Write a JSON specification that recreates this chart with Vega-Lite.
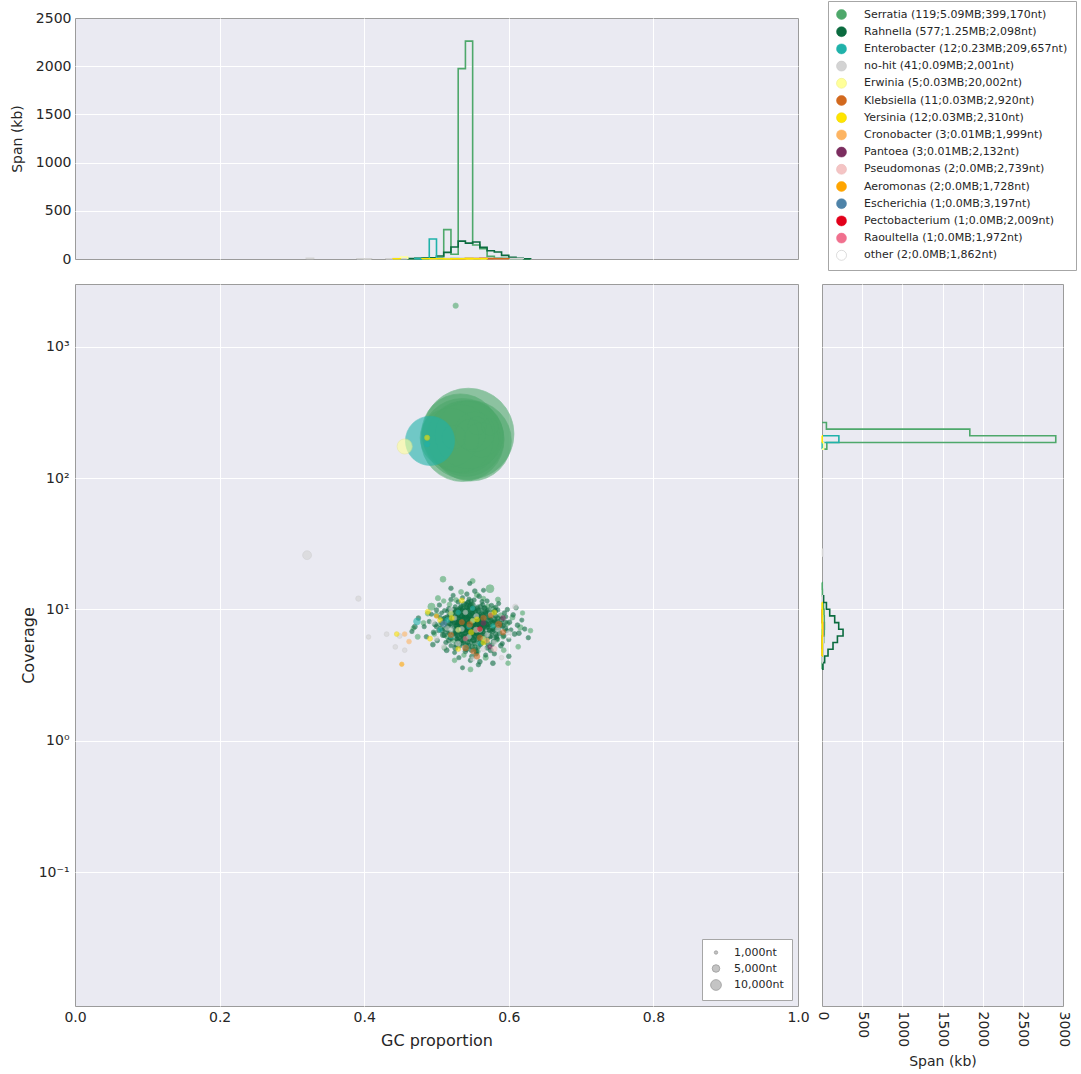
{
  "$schema": "https://vega.github.io/schema/vega-lite/v6.json",
  "background": "white",
  "padding": {"left": 9, "top": 0, "right": 0, "bottom": 0},
  "config": {
    "font": "DejaVu Sans",
    "view": {"fill": "#eaeaf2", "stroke": "#9b9b9b", "strokeWidth": 1},
    "axis": {
      "domain": false, "ticks": false, "grid": true, "gridColor": "#ffffff", "gridWidth": 1,
      "labelFont": "DejaVu Sans", "labelFontSize": 14, "labelColor": "#262626",
      "labelFlush": false, "labelOverlap": false,
      "titleFont": "DejaVu Sans", "titleFontSize": 16, "titleFontWeight": "normal", "titleColor": "#262626"
    }
  },
  "datasets": {
    "contigs": [
      {"taxon":"Serratia","gc":0.544,"cov":217,"len":725000},
      {"taxon":"Serratia","gc":0.536,"cov":195,"len":600000},
      {"taxon":"Serratia","gc":0.548,"cov":192,"len":560000},
      {"taxon":"Serratia","gc":0.533,"cov":222,"len":520000},
      {"taxon":"Serratia","gc":0.541,"cov":200,"len":495000},
      {"taxon":"Serratia","gc":0.538,"cov":205,"len":455000},
      {"taxon":"Serratia","gc":0.545,"cov":213,"len":400000},
      {"taxon":"Serratia","gc":0.532,"cov":200,"len":399170},
      {"taxon":"Serratia","gc":0.518,"cov":203,"len":300000},
      {"taxon":"Serratia","gc":0.553,"cov":225,"len":140000},
      {"taxon":"Serratia","gc":0.562,"cov":195,"len":105000},
      {"taxon":"Serratia","gc":0.547,"cov":215,"len":80000},
      {"taxon":"Serratia","gc":0.524,"cov":205,"len":50000},
      {"taxon":"Serratia","gc":0.556,"cov":250,"len":30000},
      {"taxon":"Serratia","gc":0.574,"cov":245,"len":25000},
      {"taxon":"Serratia","gc":0.5265,"cov":2052,"len":2500},
      {"taxon":"Serratia","gc":0.509,"cov":17.0,"len":3000},
      {"taxon":"Serratia","gc":0.574,"cov":14.4,"len":5500},
      {"taxon":"Serratia","gc":0.493,"cov":10.5,"len":4500},
      {"taxon":"Serratia","gc":0.52,"cov":9.2,"len":2500},
      {"taxon":"Serratia","gc":0.561,"cov":8.3,"len":2800},
      {"taxon":"Serratia","gc":0.535,"cov":6.5,"len":3200},
      {"taxon":"Serratia","gc":0.548,"cov":11.0,"len":2200},
      {"taxon":"Serratia","gc":0.58,"cov":7.4,"len":3000},
      {"taxon":"Serratia","gc":0.505,"cov":7.7,"len":2000},
      {"taxon":"Serratia","gc":0.566,"cov":5.7,"len":2400},
      {"taxon":"Serratia","gc":0.54,"cov":8.8,"len":3600},
      {"taxon":"Serratia","gc":0.527,"cov":11.8,"len":2100},
      {"taxon":"Serratia","gc":0.589,"cov":9.0,"len":2600},
      {"taxon":"Serratia","gc":0.553,"cov":5.2,"len":1900},
      {"taxon":"Serratia","gc":0.515,"cov":6.2,"len":2300},
      {"taxon":"Serratia","gc":0.598,"cov":7.8,"len":2100},
      {"taxon":"Serratia","gc":0.531,"cov":9.8,"len":2700},
      {"taxon":"Serratia","gc":0.571,"cov":10.6,"len":2000},
      {"taxon":"Serratia","gc":0.545,"cov":6.8,"len":2500},
      {"taxon":"Serratia","gc":0.482,"cov":7.9,"len":2200},
      {"taxon":"Serratia","gc":0.556,"cov":12.9,"len":2400},
      {"taxon":"Serratia","gc":0.524,"cov":8.4,"len":1800},
      {"taxon":"Serratia","gc":0.584,"cov":5.9,"len":2300},
      {"taxon":"Serratia","gc":0.5,"cov":9.1,"len":2600},
      {"taxon":"Serratia","gc":0.563,"cov":7.2,"len":3300},
      {"taxon":"Serratia","gc":0.538,"cov":4.5,"len":2000},
      {"taxon":"Serratia","gc":0.605,"cov":8.7,"len":2400},
      {"taxon":"Serratia","gc":0.518,"cov":10.9,"len":2100},
      {"taxon":"Serratia","gc":0.55,"cov":9.3,"len":1900},
      {"taxon":"Serratia","gc":0.592,"cov":6.2,"len":2000},
      {"taxon":"Serratia","gc":0.474,"cov":6.2,"len":2300},
      {"taxon":"Serratia","gc":0.534,"cov":13.6,"len":2200},
      {"taxon":"Serratia","gc":0.568,"cov":4.3,"len":2500},
      {"taxon":"Serratia","gc":0.511,"cov":5.1,"len":2100},
      {"taxon":"Serratia","gc":0.577,"cov":8.1,"len":1800},
      {"taxon":"Serratia","gc":0.616,"cov":7.3,"len":2700},
      {"taxon":"Serratia","gc":0.497,"cov":6.5,"len":2100},
      {"taxon":"Serratia","gc":0.543,"cov":10.1,"len":2600},
      {"taxon":"Serratia","gc":0.559,"cov":6.1,"len":2200},
      {"taxon":"Serratia","gc":0.529,"cov":7.5,"len":2800},
      {"taxon":"Serratia","gc":0.619,"cov":9.4,"len":1800},
      {"taxon":"Serratia","gc":0.63,"cov":6.9,"len":2000},
      {"taxon":"Serratia","gc":0.613,"cov":5.2,"len":2100},
      {"taxon":"Serratia","gc":0.488,"cov":9.3,"len":2200},
      {"taxon":"Serratia","gc":0.468,"cov":7.2,"len":1900},
      {"taxon":"Serratia","gc":0.585,"cov":11.9,"len":2300},
      {"taxon":"Serratia","gc":0.525,"cov":4.1,"len":2000},
      {"taxon":"Serratia","gc":0.547,"cov":3.5,"len":2200},
      {"taxon":"Serratia","gc":0.599,"cov":3.9,"len":2000},
      {"taxon":"Serratia","gc":0.502,"cov":12.2,"len":2400},
      {"taxon":"Serratia","gc":0.55,"cov":16.5,"len":2200},
      {"taxon":"Serratia","gc":0.565,"cov":12.1,"len":2000},
      {"taxon":"Serratia","gc":0.537,"cov":10.5,"len":2100},
      {"taxon":"Serratia","gc":0.579,"cov":10.1,"len":2600},
      {"taxon":"Serratia","gc":0.557,"cov":4.8,"len":2300},
      {"taxon":"Serratia","gc":0.523,"cov":5.8,"len":2000},
      {"taxon":"Serratia","gc":0.593,"cov":4.9,"len":2100},
      {"taxon":"Serratia","gc":0.51,"cov":11.6,"len":1900},
      {"taxon":"Rahnella","gc":0.541,"cov":7.6,"len":2100},
      {"taxon":"Rahnella","gc":0.532,"cov":8.1,"len":1850},
      {"taxon":"Rahnella","gc":0.556,"cov":7.2,"len":2400},
      {"taxon":"Rahnella","gc":0.548,"cov":6.5,"len":1600},
      {"taxon":"Rahnella","gc":0.527,"cov":6.9,"len":2900},
      {"taxon":"Rahnella","gc":0.562,"cov":8.4,"len":1750},
      {"taxon":"Rahnella","gc":0.519,"cov":7.8,"len":2200},
      {"taxon":"Rahnella","gc":0.538,"cov":9.1,"len":1500},
      {"taxon":"Rahnella","gc":0.551,"cov":5.9,"len":3100},
      {"taxon":"Rahnella","gc":0.573,"cov":7.0,"len":1900},
      {"taxon":"Rahnella","gc":0.544,"cov":10.2,"len":1300},
      {"taxon":"Rahnella","gc":0.509,"cov":6.4,"len":2500},
      {"taxon":"Rahnella","gc":0.566,"cov":6.1,"len":2050},
      {"taxon":"Rahnella","gc":0.535,"cov":5.5,"len":1700},
      {"taxon":"Rahnella","gc":0.581,"cov":8.0,"len":2600},
      {"taxon":"Rahnella","gc":0.523,"cov":9.5,"len":1450},
      {"taxon":"Rahnella","gc":0.558,"cov":9.8,"len":2300},
      {"taxon":"Rahnella","gc":0.546,"cov":8.6,"len":3500},
      {"taxon":"Rahnella","gc":0.529,"cov":7.3,"len":1200},
      {"taxon":"Rahnella","gc":0.569,"cov":7.7,"len":2750},
      {"taxon":"Rahnella","gc":0.515,"cov":8.8,"len":1650},
      {"taxon":"Rahnella","gc":0.553,"cov":6.8,"len":1950},
      {"taxon":"Rahnella","gc":0.587,"cov":6.6,"len":2200},
      {"taxon":"Rahnella","gc":0.537,"cov":6.2,"len":2450},
      {"taxon":"Rahnella","gc":0.5,"cov":7.4,"len":1800},
      {"taxon":"Rahnella","gc":0.561,"cov":5.4,"len":1550},
      {"taxon":"Rahnella","gc":0.543,"cov":11.2,"len":2000},
      {"taxon":"Rahnella","gc":0.526,"cov":5.1,"len":2350},
      {"taxon":"Rahnella","gc":0.576,"cov":9.3,"len":1400},
      {"taxon":"Rahnella","gc":0.549,"cov":7.9,"len":4200},
      {"taxon":"Rahnella","gc":0.534,"cov":10.6,"len":1750},
      {"taxon":"Rahnella","gc":0.592,"cov":7.5,"len":1900},
      {"taxon":"Rahnella","gc":0.512,"cov":7.1,"len":2650},
      {"taxon":"Rahnella","gc":0.564,"cov":10.9,"len":1600},
      {"taxon":"Rahnella","gc":0.54,"cov":4.8,"len":2050},
      {"taxon":"Rahnella","gc":0.557,"cov":8.9,"len":2850},
      {"taxon":"Rahnella","gc":0.521,"cov":6.0,"len":1350},
      {"taxon":"Rahnella","gc":0.579,"cov":5.7,"len":2250},
      {"taxon":"Rahnella","gc":0.547,"cov":9.6,"len":1800},
      {"taxon":"Rahnella","gc":0.531,"cov":8.4,"len":3300},
      {"taxon":"Rahnella","gc":0.505,"cov":8.7,"len":1550},
      {"taxon":"Rahnella","gc":0.585,"cov":8.6,"len":2000},
      {"taxon":"Rahnella","gc":0.552,"cov":11.8,"len":1700},
      {"taxon":"Rahnella","gc":0.538,"cov":7.0,"len":2500},
      {"taxon":"Rahnella","gc":0.567,"cov":6.4,"len":1450},
      {"taxon":"Rahnella","gc":0.517,"cov":10.1,"len":2150},
      {"taxon":"Rahnella","gc":0.597,"cov":6.9,"len":1650},
      {"taxon":"Rahnella","gc":0.544,"cov":5.3,"len":2700},
      {"taxon":"Rahnella","gc":0.528,"cov":9.9,"len":1900},
      {"taxon":"Rahnella","gc":0.571,"cov":8.2,"len":2300},
      {"taxon":"Rahnella","gc":0.555,"cov":4.6,"len":1850},
      {"taxon":"Rahnella","gc":0.496,"cov":6.7,"len":2050},
      {"taxon":"Rahnella","gc":0.536,"cov":12.3,"len":1600},
      {"taxon":"Rahnella","gc":0.582,"cov":10.4,"len":1750},
      {"taxon":"Rahnella","gc":0.56,"cov":7.4,"len":3900},
      {"taxon":"Rahnella","gc":0.524,"cov":6.6,"len":2200},
      {"taxon":"Rahnella","gc":0.548,"cov":7.2,"len":1300},
      {"taxon":"Rahnella","gc":0.601,"cov":8.0,"len":1950},
      {"taxon":"Rahnella","gc":0.513,"cov":5.6,"len":1800},
      {"taxon":"Rahnella","gc":0.575,"cov":4.9,"len":2400},
      {"taxon":"Rahnella","gc":0.539,"cov":8.9,"len":2000},
      {"taxon":"Rahnella","gc":0.563,"cov":9.3,"len":1550},
      {"taxon":"Rahnella","gc":0.531,"cov":4.3,"len":1700},
      {"taxon":"Rahnella","gc":0.589,"cov":5.3,"len":2100},
      {"taxon":"Rahnella","gc":0.55,"cov":10.8,"len":2600},
      {"taxon":"Rahnella","gc":0.507,"cov":9.4,"len":1450},
      {"taxon":"Rahnella","gc":0.545,"cov":6.0,"len":1900},
      {"taxon":"Rahnella","gc":0.57,"cov":11.6,"len":1650},
      {"taxon":"Rahnella","gc":0.522,"cov":8.3,"len":2950},
      {"taxon":"Rahnella","gc":0.594,"cov":9.4,"len":1800},
      {"taxon":"Rahnella","gc":0.533,"cov":7.6,"len":1400},
      {"taxon":"Rahnella","gc":0.558,"cov":6.3,"len":2250},
      {"taxon":"Rahnella","gc":0.49,"cov":8.1,"len":1700},
      {"taxon":"Rahnella","gc":0.542,"cov":13.1,"len":1850},
      {"taxon":"Rahnella","gc":0.577,"cov":6.8,"len":2050},
      {"taxon":"Rahnella","gc":0.516,"cov":7.5,"len":2300},
      {"taxon":"Rahnella","gc":0.554,"cov":5.0,"len":1600},
      {"taxon":"Rahnella","gc":0.608,"cov":6.5,"len":2150},
      {"taxon":"Rahnella","gc":0.53,"cov":11.4,"len":1750},
      {"taxon":"Rahnella","gc":0.565,"cov":7.9,"len":2700},
      {"taxon":"Rahnella","gc":0.501,"cov":5.8,"len":1900},
      {"taxon":"Rahnella","gc":0.547,"cov":8.1,"len":1500},
      {"taxon":"Rahnella","gc":0.584,"cov":7.3,"len":2450},
      {"taxon":"Rahnella","gc":0.526,"cov":10.5,"len":1550},
      {"taxon":"Rahnella","gc":0.559,"cov":12.6,"len":1950},
      {"taxon":"Rahnella","gc":0.537,"cov":5.9,"len":3000},
      {"taxon":"Rahnella","gc":0.572,"cov":9.9,"len":1850},
      {"taxon":"Rahnella","gc":0.51,"cov":8.5,"len":1650},
      {"taxon":"Rahnella","gc":0.549,"cov":4.4,"len":2100},
      {"taxon":"Rahnella","gc":0.596,"cov":8.8,"len":1400},
      {"taxon":"Rahnella","gc":0.541,"cov":9.2,"len":2350},
      {"taxon":"Rahnella","gc":0.519,"cov":6.1,"len":1750},
      {"taxon":"Rahnella","gc":0.563,"cov":5.6,"len":2000},
      {"taxon":"Rahnella","gc":0.532,"cov":6.7,"len":1600},
      {"taxon":"Rahnella","gc":0.579,"cov":8.4,"len":3400},
      {"taxon":"Rahnella","gc":0.553,"cov":9.0,"len":1700},
      {"taxon":"Rahnella","gc":0.504,"cov":10.8,"len":1800},
      {"taxon":"Rahnella","gc":0.544,"cov":7.0,"len":1450},
      {"taxon":"Rahnella","gc":0.612,"cov":7.6,"len":1950},
      {"taxon":"Rahnella","gc":0.527,"cov":8.0,"len":2150},
      {"taxon":"Rahnella","gc":0.568,"cov":4.5,"len":1650},
      {"taxon":"Rahnella","gc":0.535,"cov":9.7,"len":2500},
      {"taxon":"Rahnella","gc":0.586,"cov":11.1,"len":1600},
      {"taxon":"Rahnella","gc":0.52,"cov":11.9,"len":1750},
      {"taxon":"Rahnella","gc":0.556,"cov":10.1,"len":2050},
      {"taxon":"Rahnella","gc":0.548,"cov":5.6,"len":1300},
      {"taxon":"Rahnella","gc":0.493,"cov":9.2,"len":1550},
      {"taxon":"Rahnella","gc":0.574,"cov":6.2,"len":1900},
      {"taxon":"Rahnella","gc":0.539,"cov":7.8,"len":2750},
      {"taxon":"Rahnella","gc":0.562,"cov":7.0,"len":1800},
      {"taxon":"Rahnella","gc":0.514,"cov":4.9,"len":2200},
      {"taxon":"Rahnella","gc":0.6,"cov":5.9,"len":1700},
      {"taxon":"Rahnella","gc":0.545,"cov":12.0,"len":1550},
      {"taxon":"Rahnella","gc":0.529,"cov":6.3,"len":2000},
      {"taxon":"Rahnella","gc":0.557,"cov":8.0,"len":1450},
      {"taxon":"Rahnella","gc":0.581,"cov":9.7,"len":2350},
      {"taxon":"Rahnella","gc":0.534,"cov":8.7,"len":1650},
      {"taxon":"Rahnella","gc":0.508,"cov":7.9,"len":2450},
      {"taxon":"Rahnella","gc":0.566,"cov":8.7,"len":1900},
      {"taxon":"Rahnella","gc":0.551,"cov":6.6,"len":2200},
      {"taxon":"Rahnella","gc":0.525,"cov":4.7,"len":1500},
      {"taxon":"Rahnella","gc":0.593,"cov":6.3,"len":2050},
      {"taxon":"Rahnella","gc":0.542,"cov":10.4,"len":1750},
      {"taxon":"Rahnella","gc":0.618,"cov":8.3,"len":1600},
      {"taxon":"Rahnella","gc":0.498,"cov":7.7,"len":2300},
      {"taxon":"Rahnella","gc":0.57,"cov":5.1,"len":1850},
      {"taxon":"Rahnella","gc":0.536,"cov":7.4,"len":1400},
      {"taxon":"Rahnella","gc":0.553,"cov":13.8,"len":2000},
      {"taxon":"Rahnella","gc":0.518,"cov":9.0,"len":1700},
      {"taxon":"Rahnella","gc":0.583,"cov":6.0,"len":2600},
      {"taxon":"Rahnella","gc":0.546,"cov":9.0,"len":2150},
      {"taxon":"Rahnella","gc":0.561,"cov":6.7,"len":1550},
      {"taxon":"Rahnella","gc":0.53,"cov":5.7,"len":1800},
      {"taxon":"Rahnella","gc":0.576,"cov":10.7,"len":1950},
      {"taxon":"Rahnella","gc":0.503,"cov":6.9,"len":1600},
      {"taxon":"Rahnella","gc":0.54,"cov":6.6,"len":2450},
      {"taxon":"Rahnella","gc":0.598,"cov":10.0,"len":1750},
      {"taxon":"Rahnella","gc":0.555,"cov":7.5,"len":1900},
      {"taxon":"Rahnella","gc":0.523,"cov":12.8,"len":1650},
      {"taxon":"Rahnella","gc":0.568,"cov":9.5,"len":2050},
      {"taxon":"Rahnella","gc":0.511,"cov":9.8,"len":1500},
      {"taxon":"Rahnella","gc":0.547,"cov":4.1,"len":1850},
      {"taxon":"Rahnella","gc":0.588,"cov":7.8,"len":2250},
      {"taxon":"Rahnella","gc":0.533,"cov":9.4,"len":1700},
      {"taxon":"Rahnella","gc":0.56,"cov":4.0,"len":2000},
      {"taxon":"Rahnella","gc":0.486,"cov":6.2,"len":1800},
      {"taxon":"Rahnella","gc":0.543,"cov":8.3,"len":3700},
      {"taxon":"Rahnella","gc":0.578,"cov":7.1,"len":1650},
      {"taxon":"Rahnella","gc":0.527,"cov":7.6,"len":2350},
      {"taxon":"Rahnella","gc":0.552,"cov":8.5,"len":1550},
      {"taxon":"Rahnella","gc":0.606,"cov":9.1,"len":1900},
      {"taxon":"Rahnella","gc":0.516,"cov":6.8,"len":2100},
      {"taxon":"Rahnella","gc":0.564,"cov":6.9,"len":1450},
      {"taxon":"Rahnella","gc":0.538,"cov":11.0,"len":2200},
      {"taxon":"Rahnella","gc":0.591,"cov":5.5,"len":1700},
      {"taxon":"Rahnella","gc":0.549,"cov":6.1,"len":1950},
      {"taxon":"Rahnella","gc":0.52,"cov":5.3,"len":1600},
      {"taxon":"Rahnella","gc":0.573,"cov":8.9,"len":2500},
      {"taxon":"Rahnella","gc":0.531,"cov":10.0,"len":1850},
      {"taxon":"Rahnella","gc":0.558,"cov":5.2,"len":1750},
      {"taxon":"Rahnella","gc":0.495,"cov":5.4,"len":2050},
      {"taxon":"Rahnella","gc":0.544,"cov":7.4,"len":1500},
      {"taxon":"Rahnella","gc":0.58,"cov":4.6,"len":1800},
      {"taxon":"Rahnella","gc":0.537,"cov":8.0,"len":2300},
      {"taxon":"Rahnella","gc":0.563,"cov":11.5,"len":1650},
      {"taxon":"Rahnella","gc":0.512,"cov":8.0,"len":1900},
      {"taxon":"Rahnella","gc":0.55,"cov":9.5,"len":2150},
      {"taxon":"Rahnella","gc":0.603,"cov":7.0,"len":1550},
      {"taxon":"Rahnella","gc":0.526,"cov":9.1,"len":2000},
      {"taxon":"Rahnella","gc":0.569,"cov":7.3,"len":1700},
      {"taxon":"Rahnella","gc":0.541,"cov":5.0,"len":2400},
      {"taxon":"Rahnella","gc":0.585,"cov":9.9,"len":1450},
      {"taxon":"Rahnella","gc":0.534,"cov":6.4,"len":1950},
      {"taxon":"Rahnella","gc":0.556,"cov":7.7,"len":2600},
      {"taxon":"Rahnella","gc":0.506,"cov":7.2,"len":1750},
      {"taxon":"Rahnella","gc":0.547,"cov":10.8,"len":1850},
      {"taxon":"Rahnella","gc":0.614,"cov":6.6,"len":2100},
      {"taxon":"Rahnella","gc":0.521,"cov":7.7,"len":1500},
      {"taxon":"Rahnella","gc":0.565,"cov":8.5,"len":1800},
      {"taxon":"Rahnella","gc":0.539,"cov":6.9,"len":2250},
      {"taxon":"Rahnella","gc":0.577,"cov":5.4,"len":1650},
      {"taxon":"Rahnella","gc":0.5,"cov":9.9,"len":1900},
      {"taxon":"Rahnella","gc":0.552,"cov":7.1,"len":2050},
      {"taxon":"Rahnella","gc":0.529,"cov":8.9,"len":1600},
      {"taxon":"Rahnella","gc":0.59,"cov":8.4,"len":2350},
      {"taxon":"Rahnella","gc":0.545,"cov":8.6,"len":1700},
      {"taxon":"Rahnella","gc":0.561,"cov":9.0,"len":1950},
      {"taxon":"Rahnella","gc":0.517,"cov":5.8,"len":2150},
      {"taxon":"Rahnella","gc":0.574,"cov":7.6,"len":1500},
      {"taxon":"Rahnella","gc":0.535,"cov":7.9,"len":1800},
      {"taxon":"Rahnella","gc":0.483,"cov":7.4,"len":1650},
      {"taxon":"Rahnella","gc":0.556,"cov":6.5,"len":2000},
      {"taxon":"Rahnella","gc":0.542,"cov":6.3,"len":1550},
      {"taxon":"Rahnella","gc":0.595,"cov":7.2,"len":2450},
      {"taxon":"Rahnella","gc":0.528,"cov":6.0,"len":1750},
      {"taxon":"Rahnella","gc":0.567,"cov":10.3,"len":1850},
      {"taxon":"Rahnella","gc":0.548,"cov":11.6,"len":1600},
      {"taxon":"Rahnella","gc":0.511,"cov":6.4,"len":2250},
      {"taxon":"Rahnella","gc":0.582,"cov":6.5,"len":1900},
      {"taxon":"Rahnella","gc":0.539,"cov":9.9,"len":1450},
      {"taxon":"Rahnella","gc":0.622,"cov":7.1,"len":1700},
      {"taxon":"Rahnella","gc":0.475,"cov":8.6,"len":1950},
      {"taxon":"Rahnella","gc":0.558,"cov":3.8,"len":1800},
      {"taxon":"Rahnella","gc":0.536,"cov":3.6,"len":1550},
      {"taxon":"Rahnella","gc":0.6,"cov":4.4,"len":2000},
      {"taxon":"Rahnella","gc":0.466,"cov":6.8,"len":1650},
      {"taxon":"Rahnella","gc":0.627,"cov":6.1,"len":1750},
      {"taxon":"Rahnella","gc":0.52,"cov":14.5,"len":1850},
      {"taxon":"Rahnella","gc":0.565,"cov":14.0,"len":1600},
      {"taxon":"Rahnella","gc":0.578,"cov":3.9,"len":2100},
      {"taxon":"Rahnella","gc":0.546,"cov":15.8,"len":1700},
      {"taxon":"Rahnella","gc":0.47,"cov":7.4,"len":2200},
      {"taxon":"Rahnella","gc":0.61,"cov":10.3,"len":1800},
      {"taxon":"Rahnella","gc":0.545,"cov":7.8,"len":2050},
      {"taxon":"Rahnella","gc":0.553,"cov":7.9,"len":1900},
      {"taxon":"Rahnella","gc":0.537,"cov":7.2,"len":1750},
      {"taxon":"Rahnella","gc":0.56,"cov":7.9,"len":1650},
      {"taxon":"Rahnella","gc":0.548,"cov":8.3,"len":2350},
      {"taxon":"Rahnella","gc":0.531,"cov":7.0,"len":1850},
      {"taxon":"Rahnella","gc":0.55,"cov":6.9,"len":2000},
      {"taxon":"Rahnella","gc":0.542,"cov":7.1,"len":2300},
      {"taxon":"Rahnella","gc":0.551,"cov":7.8,"len":2000},
      {"taxon":"Rahnella","gc":0.536,"cov":8.4,"len":1900},
      {"taxon":"Rahnella","gc":0.558,"cov":7.0,"len":2100},
      {"taxon":"Rahnella","gc":0.547,"cov":6.9,"len":2500},
      {"taxon":"Rahnella","gc":0.529,"cov":7.9,"len":1800},
      {"taxon":"Rahnella","gc":0.563,"cov":8.1,"len":2200},
      {"taxon":"Rahnella","gc":0.54,"cov":8.0,"len":2400},
      {"taxon":"Rahnella","gc":0.555,"cov":8.6,"len":1700},
      {"taxon":"Rahnella","gc":0.533,"cov":6.8,"len":2000},
      {"taxon":"Rahnella","gc":0.571,"cov":7.4,"len":2150},
      {"taxon":"Rahnella","gc":0.524,"cov":7.2,"len":1900},
      {"taxon":"Rahnella","gc":0.549,"cov":9.3,"len":2050},
      {"taxon":"Rahnella","gc":0.545,"cov":6.4,"len":2300},
      {"taxon":"Rahnella","gc":0.56,"cov":6.1,"len":1850},
      {"taxon":"Rahnella","gc":0.538,"cov":9.6,"len":1700},
      {"taxon":"Rahnella","gc":0.566,"cov":7.5,"len":2400},
      {"taxon":"Rahnella","gc":0.552,"cov":5.8,"len":2000},
      {"taxon":"Rahnella","gc":0.527,"cov":8.7,"len":2200},
      {"taxon":"Rahnella","gc":0.575,"cov":8.3,"len":1800},
      {"taxon":"Rahnella","gc":0.541,"cov":6.0,"len":2100},
      {"taxon":"Rahnella","gc":0.557,"cov":9.2,"len":2300},
      {"taxon":"Rahnella","gc":0.532,"cov":7.3,"len":1950},
      {"taxon":"Rahnella","gc":0.548,"cov":7.6,"len":2600},
      {"taxon":"Rahnella","gc":0.569,"cov":6.6,"len":1750},
      {"taxon":"Rahnella","gc":0.519,"cov":8.2,"len":2000},
      {"taxon":"Rahnella","gc":0.554,"cov":6.3,"len":2250},
      {"taxon":"Rahnella","gc":0.537,"cov":5.6,"len":1850},
      {"taxon":"Rahnella","gc":0.562,"cov":9.8,"len":2050},
      {"taxon":"Rahnella","gc":0.544,"cov":9.8,"len":1900},
      {"taxon":"Rahnella","gc":0.58,"cov":7.0,"len":2200},
      {"taxon":"Rahnella","gc":0.526,"cov":6.4,"len":2000},
      {"taxon":"Rahnella","gc":0.55,"cov":8.0,"len":2700},
      {"taxon":"Rahnella","gc":0.535,"cov":7.7,"len":2150},
      {"taxon":"Rahnella","gc":0.559,"cov":7.3,"len":1800},
      {"taxon":"Rahnella","gc":0.543,"cov":5.6,"len":2000},
      {"taxon":"Rahnella","gc":0.572,"cov":8.7,"len":2300},
      {"taxon":"Rahnella","gc":0.53,"cov":9.2,"len":1750},
      {"taxon":"Rahnella","gc":0.556,"cov":6.7,"len":2400},
      {"taxon":"Rahnella","gc":0.546,"cov":10.5,"len":1950},
      {"taxon":"Rahnella","gc":0.515,"cov":7.4,"len":2050},
      {"taxon":"Rahnella","gc":0.564,"cov":7.1,"len":2100},
      {"taxon":"Rahnella","gc":0.539,"cov":8.6,"len":2350},
      {"taxon":"Rahnella","gc":0.553,"cov":5.5,"len":1850},
      {"taxon":"Rahnella","gc":0.578,"cov":7.9,"len":2000},
      {"taxon":"Rahnella","gc":0.523,"cov":8.9,"len":1900},
      {"taxon":"Rahnella","gc":0.547,"cov":7.4,"len":2200},
      {"taxon":"Rahnella","gc":0.561,"cov":6.5,"len":2450},
      {"taxon":"Rahnella","gc":0.534,"cov":9.0,"len":2000},
      {"taxon":"Rahnella","gc":0.568,"cov":8.0,"len":1800},
      {"taxon":"Rahnella","gc":0.543,"cov":6.6,"len":2150},
      {"taxon":"Rahnella","gc":0.529,"cov":5.9,"len":2000},
      {"taxon":"Rahnella","gc":0.557,"cov":10.4,"len":1900},
      {"taxon":"Rahnella","gc":0.551,"cov":6.4,"len":2300},
      {"taxon":"Rahnella","gc":0.538,"cov":7.5,"len":2050},
      {"taxon":"Rahnella","gc":0.574,"cov":6.9,"len":2200},
      {"taxon":"Rahnella","gc":0.52,"cov":7.0,"len":1800},
      {"taxon":"Rahnella","gc":0.565,"cov":9.1,"len":2100},
      {"taxon":"Rahnella","gc":0.548,"cov":8.9,"len":2000},
      {"taxon":"Rahnella","gc":0.531,"cov":8.0,"len":2400},
      {"taxon":"Rahnella","gc":0.584,"cov":8.1,"len":1950},
      {"taxon":"Rahnella","gc":0.55,"cov":7.3,"len":2250},
      {"taxon":"Rahnella","gc":0.541,"cov":8.8,"len":1850},
      {"taxon":"Rahnella","gc":0.556,"cov":5.9,"len":2100},
      {"taxon":"Rahnella","gc":0.527,"cov":6.6,"len":2000},
      {"taxon":"Rahnella","gc":0.563,"cov":7.8,"len":2300},
      {"taxon":"Rahnella","gc":0.545,"cov":5.9,"len":1900},
      {"taxon":"Rahnella","gc":0.536,"cov":6.9,"len":2150},
      {"taxon":"Rahnella","gc":0.57,"cov":6.0,"len":2000},
      {"taxon":"Rahnella","gc":0.552,"cov":9.9,"len":1800},
      {"taxon":"Rahnella","gc":0.512,"cov":8.6,"len":2200},
      {"taxon":"Rahnella","gc":0.559,"cov":8.5,"len":2050},
      {"taxon":"Rahnella","gc":0.533,"cov":10.3,"len":1950},
      {"taxon":"Rahnella","gc":0.577,"cov":9.4,"len":2100},
      {"taxon":"Rahnella","gc":0.544,"cov":7.9,"len":2300},
      {"taxon":"Rahnella","gc":0.526,"cov":9.6,"len":1850},
      {"taxon":"Rahnella","gc":0.567,"cov":5.8,"len":2000},
      {"taxon":"Rahnella","gc":0.54,"cov":7.3,"len":2250},
      {"taxon":"Rahnella","gc":0.553,"cov":8.3,"len":2100},
      {"taxon":"Rahnella","gc":0.583,"cov":6.2,"len":1900},
      {"taxon":"Rahnella","gc":0.537,"cov":6.3,"len":2000},
      {"taxon":"Rahnella","gc":0.549,"cov":5.2,"len":2200},
      {"taxon":"Rahnella","gc":0.561,"cov":10.6,"len":1800},
      {"taxon":"Rahnella","gc":0.518,"cov":6.6,"len":2050},
      {"taxon":"Rahnella","gc":0.573,"cov":7.7,"len":2300},
      {"taxon":"Rahnella","gc":0.546,"cov":6.2,"len":1950},
      {"taxon":"Rahnella","gc":0.532,"cov":5.3,"len":2000},
      {"taxon":"Rahnella","gc":0.558,"cov":8.8,"len":2150},
      {"taxon":"Rahnella","gc":0.541,"cov":10.9,"len":1900},
      {"taxon":"Rahnella","gc":0.565,"cov":6.3,"len":2200},
      {"taxon":"Rahnella","gc":0.528,"cov":7.5,"len":2100},
      {"taxon":"Rahnella","gc":0.589,"cov":7.6,"len":1850},
      {"taxon":"Rahnella","gc":0.552,"cov":7.6,"len":2000},
      {"taxon":"Rahnella","gc":0.535,"cov":8.9,"len":2300},
      {"taxon":"Rahnella","gc":0.57,"cov":9.7,"len":1900},
      {"taxon":"Rahnella","gc":0.548,"cov":4.9,"len":2050},
      {"taxon":"Rahnella","gc":0.524,"cov":10.0,"len":2000},
      {"taxon":"Rahnella","gc":0.56,"cov":5.6,"len":2200},
      {"taxon":"Rahnella","gc":0.539,"cov":6.1,"len":1800},
      {"taxon":"Rahnella","gc":0.554,"cov":9.6,"len":2100},
      {"taxon":"Rahnella","gc":0.508,"cov":6.9,"len":2000},
      {"taxon":"Rahnella","gc":0.576,"cov":6.3,"len":2250},
      {"taxon":"Rahnella","gc":0.543,"cov":9.4,"len":1950},
      {"taxon":"Rahnella","gc":0.531,"cov":6.1,"len":2100},
      {"taxon":"Rahnella","gc":0.566,"cov":10.2,"len":2000},
      {"taxon":"Rahnella","gc":0.55,"cov":6.7,"len":2300},
      {"taxon":"Rahnella","gc":0.537,"cov":10.1,"len":1850},
      {"taxon":"Rahnella","gc":0.582,"cov":8.9,"len":2000},
      {"taxon":"Rahnella","gc":0.555,"cov":4.8,"len":2200},
      {"taxon":"Rahnella","gc":0.546,"cov":7.0,"len":2050},
      {"taxon":"Rahnella","gc":0.521,"cov":9.3,"len":1900},
      {"taxon":"Rahnella","gc":0.562,"cov":7.6,"len":2150},
      {"taxon":"Rahnella","gc":0.534,"cov":5.8,"len":2000},
      {"taxon":"Rahnella","gc":0.559,"cov":6.8,"len":2300},
      {"taxon":"Rahnella","gc":0.544,"cov":11.4,"len":1800},
      {"taxon":"Rahnella","gc":0.527,"cov":5.4,"len":2100},
      {"taxon":"Rahnella","gc":0.571,"cov":5.5,"len":2000},
      {"taxon":"Rahnella","gc":0.551,"cov":10.2,"len":1950},
      {"taxon":"Rahnella","gc":0.539,"cov":7.1,"len":2200},
      {"taxon":"Rahnella","gc":0.595,"cov":8.0,"len":2050},
      {"taxon":"Rahnella","gc":0.516,"cov":9.7,"len":2000},
      {"taxon":"Rahnella","gc":0.557,"cov":7.8,"len":2100},
      {"taxon":"Rahnella","gc":0.53,"cov":8.5,"len":1900},
      {"taxon":"Rahnella","gc":0.564,"cov":6.8,"len":2300},
      {"taxon":"Rahnella","gc":0.547,"cov":8.2,"len":2000},
      {"taxon":"Rahnella","gc":0.586,"cov":7.2,"len":2150},
      {"taxon":"Rahnella","gc":0.525,"cov":7.9,"len":1850},
      {"taxon":"Rahnella","gc":0.553,"cov":7.1,"len":2050},
      {"taxon":"Rahnella","gc":0.541,"cov":5.4,"len":2200},
      {"taxon":"Rahnella","gc":0.568,"cov":9.3,"len":2000},
      {"taxon":"Enterobacter","gc":0.491,"cov":192,"len":209657},
      {"taxon":"Enterobacter","gc":0.487,"cov":181,"len":2500},
      {"taxon":"Enterobacter","gc":0.473,"cov":8.1,"len":4000},
      {"taxon":"Enterobacter","gc":0.52,"cov":6.2,"len":2000},
      {"taxon":"Enterobacter","gc":0.545,"cov":7.4,"len":2100},
      {"taxon":"Enterobacter","gc":0.53,"cov":9.5,"len":1900},
      {"taxon":"Enterobacter","gc":0.56,"cov":5.5,"len":1800},
      {"taxon":"Enterobacter","gc":0.515,"cov":8.3,"len":2200},
      {"taxon":"Enterobacter","gc":0.55,"cov":10.2,"len":1800},
      {"taxon":"Enterobacter","gc":0.578,"cov":7.5,"len":1700},
      {"taxon":"Enterobacter","gc":0.505,"cov":7.0,"len":1900},
      {"taxon":"Enterobacter","gc":0.54,"cov":5.2,"len":2000},
      {"taxon":"no-hit","gc":0.321,"cov":25.9,"len":6800},
      {"taxon":"no-hit","gc":0.392,"cov":12.1,"len":2500},
      {"taxon":"no-hit","gc":0.406,"cov":6.18,"len":1800},
      {"taxon":"no-hit","gc":0.431,"cov":6.49,"len":2000},
      {"taxon":"no-hit","gc":0.449,"cov":6.29,"len":2200},
      {"taxon":"no-hit","gc":0.443,"cov":5.19,"len":2000},
      {"taxon":"no-hit","gc":0.456,"cov":4.9,"len":1900},
      {"taxon":"no-hit","gc":0.609,"cov":10.5,"len":2400},
      {"taxon":"no-hit","gc":0.5,"cov":6.0,"len":2100},
      {"taxon":"no-hit","gc":0.515,"cov":7.2,"len":1900},
      {"taxon":"no-hit","gc":0.53,"cov":5.5,"len":2300},
      {"taxon":"no-hit","gc":0.545,"cov":6.2,"len":2000},
      {"taxon":"no-hit","gc":0.56,"cov":7.0,"len":2400},
      {"taxon":"no-hit","gc":0.525,"cov":8.6,"len":1800},
      {"taxon":"no-hit","gc":0.555,"cov":8.9,"len":2200},
      {"taxon":"no-hit","gc":0.57,"cov":6.4,"len":2000},
      {"taxon":"no-hit","gc":0.585,"cov":7.1,"len":2100},
      {"taxon":"no-hit","gc":0.54,"cov":9.5,"len":1900},
      {"taxon":"no-hit","gc":0.51,"cov":5.2,"len":2000},
      {"taxon":"no-hit","gc":0.565,"cov":5.0,"len":2300},
      {"taxon":"no-hit","gc":0.59,"cov":4.3,"len":1800},
      {"taxon":"no-hit","gc":0.575,"cov":9.2,"len":2000},
      {"taxon":"no-hit","gc":0.535,"cov":7.1,"len":2200},
      {"taxon":"no-hit","gc":0.55,"cov":4.2,"len":1900},
      {"taxon":"no-hit","gc":0.495,"cov":8.0,"len":2000},
      {"taxon":"no-hit","gc":0.58,"cov":5.6,"len":2100},
      {"taxon":"no-hit","gc":0.52,"cov":10.0,"len":1800},
      {"taxon":"no-hit","gc":0.6,"cov":6.6,"len":2000},
      {"taxon":"Erwinia","gc":0.456,"cov":174,"len":20002},
      {"taxon":"Erwinia","gc":0.53,"cov":7.0,"len":2200},
      {"taxon":"Erwinia","gc":0.55,"cov":8.2,"len":2100},
      {"taxon":"Erwinia","gc":0.565,"cov":6.0,"len":1900},
      {"taxon":"Erwinia","gc":0.52,"cov":9.3,"len":2000},
      {"taxon":"Klebsiella","gc":0.546,"cov":7.7,"len":3000},
      {"taxon":"Klebsiella","gc":0.556,"cov":4.4,"len":2900},
      {"taxon":"Klebsiella","gc":0.586,"cov":7.7,"len":3500},
      {"taxon":"Klebsiella","gc":0.56,"cov":6.1,"len":2700},
      {"taxon":"Klebsiella","gc":0.551,"cov":4.8,"len":2500},
      {"taxon":"Klebsiella","gc":0.565,"cov":8.6,"len":2800},
      {"taxon":"Klebsiella","gc":0.535,"cov":8.0,"len":2400},
      {"taxon":"Klebsiella","gc":0.575,"cov":9.0,"len":2300},
      {"taxon":"Klebsiella","gc":0.54,"cov":5.1,"len":3200},
      {"taxon":"Klebsiella","gc":0.52,"cov":6.4,"len":2500},
      {"taxon":"Klebsiella","gc":0.592,"cov":6.7,"len":2600},
      {"taxon":"Yersinia","gc":0.487,"cov":203,"len":2300},
      {"taxon":"Yersinia","gc":0.488,"cov":9.6,"len":2300},
      {"taxon":"Yersinia","gc":0.521,"cov":8.6,"len":2400},
      {"taxon":"Yersinia","gc":0.548,"cov":6.7,"len":2600},
      {"taxon":"Yersinia","gc":0.556,"cov":8.4,"len":2300},
      {"taxon":"Yersinia","gc":0.505,"cov":8.3,"len":2200},
      {"taxon":"Yersinia","gc":0.535,"cov":11.7,"len":2300},
      {"taxon":"Yersinia","gc":0.491,"cov":6.0,"len":2200},
      {"taxon":"Yersinia","gc":0.445,"cov":6.5,"len":2000},
      {"taxon":"Yersinia","gc":0.565,"cov":5.6,"len":2400},
      {"taxon":"Yersinia","gc":0.53,"cov":5.0,"len":2100},
      {"taxon":"Yersinia","gc":0.58,"cov":9.5,"len":2200},
      {"taxon":"Cronobacter","gc":0.456,"cov":6.5,"len":1999},
      {"taxon":"Cronobacter","gc":0.462,"cov":5.7,"len":2000},
      {"taxon":"Cronobacter","gc":0.57,"cov":5.8,"len":2100},
      {"taxon":"Pantoea","gc":0.592,"cov":8.6,"len":2132},
      {"taxon":"Pantoea","gc":0.574,"cov":5.2,"len":2000},
      {"taxon":"Pantoea","gc":0.565,"cov":7.9,"len":2200},
      {"taxon":"Pseudomonas","gc":0.58,"cov":5.0,"len":2739},
      {"taxon":"Pseudomonas","gc":0.555,"cov":7.0,"len":2700},
      {"taxon":"Aeromonas","gc":0.452,"cov":3.83,"len":1728},
      {"taxon":"Aeromonas","gc":0.5,"cov":8.9,"len":1700},
      {"taxon":"Escherichia","gc":0.51,"cov":7.8,"len":3197},
      {"taxon":"Pectobacterium","gc":0.56,"cov":7.1,"len":2009},
      {"taxon":"Raoultella","gc":0.54,"cov":6.0,"len":1972},
      {"taxon":"other","gc":0.52,"cov":7.0,"len":1862},
      {"taxon":"other","gc":0.6,"cov":6.2,"len":1800}
    ],
    "gcHist": [
      {"taxon":"Serratia","gc":0.46,"kb":0},{"taxon":"Serratia","gc":0.46,"kb":3},{"taxon":"Serratia","gc":0.47,"kb":4},{"taxon":"Serratia","gc":0.48,"kb":6},{"taxon":"Serratia","gc":0.49,"kb":10},{"taxon":"Serratia","gc":0.5,"kb":15},{"taxon":"Serratia","gc":0.51,"kb":305},{"taxon":"Serratia","gc":0.52,"kb":50},{"taxon":"Serratia","gc":0.53,"kb":1975},{"taxon":"Serratia","gc":0.54,"kb":2260},{"taxon":"Serratia","gc":0.55,"kb":145},{"taxon":"Serratia","gc":0.56,"kb":107},{"taxon":"Serratia","gc":0.57,"kb":27},{"taxon":"Serratia","gc":0.58,"kb":10},{"taxon":"Serratia","gc":0.59,"kb":6},{"taxon":"Serratia","gc":0.6,"kb":3},{"taxon":"Serratia","gc":0.61,"kb":2},{"taxon":"Serratia","gc":0.62,"kb":1},{"taxon":"Serratia","gc":0.63,"kb":0},
      {"taxon":"Rahnella","gc":0.44,"kb":0},{"taxon":"Rahnella","gc":0.44,"kb":2},{"taxon":"Rahnella","gc":0.45,"kb":3},{"taxon":"Rahnella","gc":0.46,"kb":5},{"taxon":"Rahnella","gc":0.47,"kb":7},{"taxon":"Rahnella","gc":0.48,"kb":9},{"taxon":"Rahnella","gc":0.49,"kb":12},{"taxon":"Rahnella","gc":0.5,"kb":31},{"taxon":"Rahnella","gc":0.51,"kb":69},{"taxon":"Rahnella","gc":0.52,"kb":125},{"taxon":"Rahnella","gc":0.53,"kb":185},{"taxon":"Rahnella","gc":0.54,"kb":165},{"taxon":"Rahnella","gc":0.55,"kb":176},{"taxon":"Rahnella","gc":0.56,"kb":121},{"taxon":"Rahnella","gc":0.57,"kb":86},{"taxon":"Rahnella","gc":0.58,"kb":73},{"taxon":"Rahnella","gc":0.59,"kb":38},{"taxon":"Rahnella","gc":0.6,"kb":17},{"taxon":"Rahnella","gc":0.61,"kb":8},{"taxon":"Rahnella","gc":0.62,"kb":3},{"taxon":"Rahnella","gc":0.63,"kb":0},
      {"taxon":"Enterobacter","gc":0.47,"kb":0},{"taxon":"Enterobacter","gc":0.47,"kb":4},{"taxon":"Enterobacter","gc":0.48,"kb":0},{"taxon":"Enterobacter","gc":0.49,"kb":207},{"taxon":"Enterobacter","gc":0.5,"kb":2},{"taxon":"Enterobacter","gc":0.51,"kb":0},{"taxon":"Enterobacter","gc":0.52,"kb":4},{"taxon":"Enterobacter","gc":0.53,"kb":2},{"taxon":"Enterobacter","gc":0.54,"kb":5},{"taxon":"Enterobacter","gc":0.55,"kb":3},{"taxon":"Enterobacter","gc":0.56,"kb":2},{"taxon":"Enterobacter","gc":0.57,"kb":0},
      {"taxon":"no-hit","part":"a","gc":0.32,"kb":0},{"taxon":"no-hit","part":"a","gc":0.32,"kb":7},{"taxon":"no-hit","part":"a","gc":0.33,"kb":0},
      {"taxon":"no-hit","part":"b","gc":0.39,"kb":0},{"taxon":"no-hit","part":"b","gc":0.39,"kb":2.5},{"taxon":"no-hit","part":"b","gc":0.4,"kb":1.8},{"taxon":"no-hit","part":"b","gc":0.41,"kb":0},
      {"taxon":"no-hit","part":"c","gc":0.43,"kb":0},{"taxon":"no-hit","part":"c","gc":0.43,"kb":2},{"taxon":"no-hit","part":"c","gc":0.44,"kb":4.2},{"taxon":"no-hit","part":"c","gc":0.45,"kb":1.9},{"taxon":"no-hit","part":"c","gc":0.46,"kb":0},
      {"taxon":"no-hit","part":"d","gc":0.49,"kb":0},{"taxon":"no-hit","part":"d","gc":0.49,"kb":3},{"taxon":"no-hit","part":"d","gc":0.5,"kb":5},{"taxon":"no-hit","part":"d","gc":0.51,"kb":6},{"taxon":"no-hit","part":"d","gc":0.52,"kb":8},{"taxon":"no-hit","part":"d","gc":0.53,"kb":10},{"taxon":"no-hit","part":"d","gc":0.54,"kb":9},{"taxon":"no-hit","part":"d","gc":0.55,"kb":8},{"taxon":"no-hit","part":"d","gc":0.56,"kb":6},{"taxon":"no-hit","part":"d","gc":0.57,"kb":5},{"taxon":"no-hit","part":"d","gc":0.58,"kb":4},{"taxon":"no-hit","part":"d","gc":0.59,"kb":3},{"taxon":"no-hit","part":"d","gc":0.6,"kb":4},{"taxon":"no-hit","part":"d","gc":0.61,"kb":2},{"taxon":"no-hit","part":"d","gc":0.62,"kb":0},
      {"taxon":"Erwinia","part":"a","gc":0.45,"kb":0},{"taxon":"Erwinia","part":"a","gc":0.45,"kb":20},{"taxon":"Erwinia","part":"a","gc":0.46,"kb":0},
      {"taxon":"Erwinia","part":"b","gc":0.52,"kb":0},{"taxon":"Erwinia","part":"b","gc":0.52,"kb":2},{"taxon":"Erwinia","part":"b","gc":0.53,"kb":2.2},{"taxon":"Erwinia","part":"b","gc":0.54,"kb":0},{"taxon":"Erwinia","part":"b","gc":0.55,"kb":2.1},{"taxon":"Erwinia","part":"b","gc":0.56,"kb":1.9},{"taxon":"Erwinia","part":"b","gc":0.57,"kb":0},
      {"taxon":"Klebsiella","gc":0.52,"kb":0},{"taxon":"Klebsiella","gc":0.52,"kb":2.5},{"taxon":"Klebsiella","gc":0.53,"kb":2.4},{"taxon":"Klebsiella","gc":0.54,"kb":5.9},{"taxon":"Klebsiella","gc":0.55,"kb":5.9},{"taxon":"Klebsiella","gc":0.56,"kb":8.3},{"taxon":"Klebsiella","gc":0.57,"kb":3.5},{"taxon":"Klebsiella","gc":0.58,"kb":2.5},{"taxon":"Klebsiella","gc":0.59,"kb":2.6},{"taxon":"Klebsiella","gc":0.6,"kb":0},
      {"taxon":"Yersinia","part":"a","gc":0.44,"kb":0},{"taxon":"Yersinia","part":"a","gc":0.44,"kb":2},{"taxon":"Yersinia","part":"a","gc":0.45,"kb":0},
      {"taxon":"Yersinia","part":"b","gc":0.48,"kb":0},{"taxon":"Yersinia","part":"b","gc":0.48,"kb":2.3},{"taxon":"Yersinia","part":"b","gc":0.49,"kb":2.3},{"taxon":"Yersinia","part":"b","gc":0.5,"kb":2.2},{"taxon":"Yersinia","part":"b","gc":0.51,"kb":0},{"taxon":"Yersinia","part":"b","gc":0.52,"kb":2.4},{"taxon":"Yersinia","part":"b","gc":0.53,"kb":2.1},{"taxon":"Yersinia","part":"b","gc":0.54,"kb":4.4},{"taxon":"Yersinia","part":"b","gc":0.55,"kb":2.4},{"taxon":"Yersinia","part":"b","gc":0.56,"kb":2.2},{"taxon":"Yersinia","part":"b","gc":0.57,"kb":0}
    ],
    "covHist": [
      {"taxon":"Serratia","part":"a","cov":265.2,"kb":0},{"taxon":"Serratia","part":"a","cov":265.2,"kb":55},{"taxon":"Serratia","part":"a","cov":235.9,"kb":1840},{"taxon":"Serratia","part":"a","cov":209.9,"kb":2910},{"taxon":"Serratia","part":"a","cov":186.7,"kb":60},{"taxon":"Serratia","part":"a","cov":166.1,"kb":0},
      {"taxon":"Serratia","part":"b","cov":16.03,"kb":0},{"taxon":"Serratia","part":"b","cov":16.03,"kb":3},{"taxon":"Serratia","part":"b","cov":14.26,"kb":5},{"taxon":"Serratia","part":"b","cov":12.69,"kb":10},{"taxon":"Serratia","part":"b","cov":11.29,"kb":18},{"taxon":"Serratia","part":"b","cov":10.04,"kb":25},{"taxon":"Serratia","part":"b","cov":8.94,"kb":28},{"taxon":"Serratia","part":"b","cov":7.95,"kb":30},{"taxon":"Serratia","part":"b","cov":7.07,"kb":28},{"taxon":"Serratia","part":"b","cov":6.29,"kb":22},{"taxon":"Serratia","part":"b","cov":5.6,"kb":15},{"taxon":"Serratia","part":"b","cov":4.98,"kb":8},{"taxon":"Serratia","part":"b","cov":4.43,"kb":4},{"taxon":"Serratia","part":"b","cov":3.94,"kb":2},{"taxon":"Serratia","part":"b","cov":3.51,"kb":0},
      {"taxon":"Rahnella","cov":12.69,"kb":0},{"taxon":"Rahnella","cov":12.69,"kb":20},{"taxon":"Rahnella","cov":11.29,"kb":55},{"taxon":"Rahnella","cov":10.04,"kb":96},{"taxon":"Rahnella","cov":8.94,"kb":158},{"taxon":"Rahnella","cov":7.95,"kb":208},{"taxon":"Rahnella","cov":7.07,"kb":262},{"taxon":"Rahnella","cov":6.29,"kb":192},{"taxon":"Rahnella","cov":5.6,"kb":137},{"taxon":"Rahnella","cov":4.98,"kb":75},{"taxon":"Rahnella","cov":4.43,"kb":33},{"taxon":"Rahnella","cov":3.94,"kb":12},{"taxon":"Rahnella","cov":3.51,"kb":0},
      {"taxon":"Enterobacter","part":"a","cov":209.9,"kb":0},{"taxon":"Enterobacter","part":"a","cov":209.9,"kb":210},{"taxon":"Enterobacter","part":"a","cov":186.7,"kb":3},{"taxon":"Enterobacter","part":"a","cov":166.1,"kb":0},
      {"taxon":"Enterobacter","part":"b","cov":10.04,"kb":0},{"taxon":"Enterobacter","part":"b","cov":10.04,"kb":2},{"taxon":"Enterobacter","part":"b","cov":8.94,"kb":4},{"taxon":"Enterobacter","part":"b","cov":7.95,"kb":5},{"taxon":"Enterobacter","part":"b","cov":7.07,"kb":4},{"taxon":"Enterobacter","part":"b","cov":6.29,"kb":3},{"taxon":"Enterobacter","part":"b","cov":5.6,"kb":2},{"taxon":"Enterobacter","part":"b","cov":4.98,"kb":0},
      {"taxon":"no-hit","part":"a","cov":28.77,"kb":0},{"taxon":"no-hit","part":"a","cov":28.77,"kb":7},{"taxon":"no-hit","part":"a","cov":25.6,"kb":0},
      {"taxon":"no-hit","part":"b","cov":12.69,"kb":0},{"taxon":"no-hit","part":"b","cov":12.69,"kb":2.5},{"taxon":"no-hit","part":"b","cov":11.29,"kb":0},{"taxon":"no-hit","part":"b","cov":10.04,"kb":2.4},{"taxon":"no-hit","part":"b","cov":8.94,"kb":8},{"taxon":"no-hit","part":"b","cov":7.95,"kb":12},{"taxon":"no-hit","part":"b","cov":7.07,"kb":14},{"taxon":"no-hit","part":"b","cov":6.29,"kb":18},{"taxon":"no-hit","part":"b","cov":5.6,"kb":14},{"taxon":"no-hit","part":"b","cov":4.98,"kb":10},{"taxon":"no-hit","part":"b","cov":4.43,"kb":4},{"taxon":"no-hit","part":"b","cov":3.94,"kb":0},
      {"taxon":"Erwinia","part":"a","cov":186.7,"kb":0},{"taxon":"Erwinia","part":"a","cov":186.7,"kb":20},{"taxon":"Erwinia","part":"a","cov":166.1,"kb":0},
      {"taxon":"Erwinia","part":"b","cov":10.04,"kb":0},{"taxon":"Erwinia","part":"b","cov":10.04,"kb":2},{"taxon":"Erwinia","part":"b","cov":8.94,"kb":2},{"taxon":"Erwinia","part":"b","cov":7.95,"kb":2},{"taxon":"Erwinia","part":"b","cov":7.07,"kb":0},
      {"taxon":"Klebsiella","cov":10.04,"kb":0},{"taxon":"Klebsiella","cov":10.04,"kb":2.6},{"taxon":"Klebsiella","cov":8.94,"kb":2.6},{"taxon":"Klebsiella","cov":7.95,"kb":8.8},{"taxon":"Klebsiella","cov":7.07,"kb":8.6},{"taxon":"Klebsiella","cov":6.29,"kb":2.8},{"taxon":"Klebsiella","cov":5.6,"kb":3.2},{"taxon":"Klebsiella","cov":4.98,"kb":2.9},{"taxon":"Klebsiella","cov":4.43,"kb":0},
      {"taxon":"Yersinia","part":"a","cov":209.9,"kb":0},{"taxon":"Yersinia","part":"a","cov":209.9,"kb":2.3},{"taxon":"Yersinia","part":"a","cov":186.7,"kb":0},
      {"taxon":"Yersinia","part":"b","cov":11.29,"kb":0},{"taxon":"Yersinia","part":"b","cov":11.29,"kb":2.3},{"taxon":"Yersinia","part":"b","cov":10.04,"kb":4.5},{"taxon":"Yersinia","part":"b","cov":8.94,"kb":4.6},{"taxon":"Yersinia","part":"b","cov":7.95,"kb":4.5},{"taxon":"Yersinia","part":"b","cov":7.07,"kb":4.4},{"taxon":"Yersinia","part":"b","cov":6.29,"kb":2.3},{"taxon":"Yersinia","part":"b","cov":5.6,"kb":2.2},{"taxon":"Yersinia","part":"b","cov":4.98,"kb":2.2},{"taxon":"Yersinia","part":"b","cov":4.43,"kb":0}
    ]
  },
  "bounds": "flush",
  "spacing": 25,
  "resolve": {
    "scale": {"color": "independent", "size": "independent", "stroke": "independent"},
    "legend": {"color": "independent", "size": "independent"}
  },
  "vconcat": [
    {
      "width": 723,
      "height": 241,
      "data": {"name": "gcHist"},
      "mark": {"type": "line", "interpolate": "step-after", "strokeWidth": 1.6},
      "encoding": {
        "x": {"field": "gc", "type": "quantitative", "scale": {"domain": [0, 1], "nice": false},
              "axis": {"title": null, "labels": false, "values": [0.2, 0.4, 0.6, 0.8]}},
        "y": {"field": "kb", "type": "quantitative", "scale": {"domain": [0, 2500], "nice": false},
              "axis": {"title": "Span (kb)", "titleFontSize": 14, "labelPadding": 4, "titlePadding": 11, "format": "d",
                       "values": [0, 500, 1000, 1500, 2000, 2500],
                       "gridColor": {"condition": {"test": "datum.value == 0 || datum.value == 2500", "value": "transparent"}, "value": "#ffffff"}}},
        "color": {"field": "taxon", "type": "nominal", "legend": null,
                  "scale": {"domain": ["Serratia","Rahnella","Enterobacter","no-hit","Erwinia","Klebsiella","Yersinia","Cronobacter","Pantoea","Pseudomonas","Aeromonas","Escherichia","Pectobacterium","Raoultella","other"],
                            "range": ["#4ea86b","#0b6b3f","#20b2aa","#d3d3d3","#ffff99","#d2691e","#ffe500","#fdb462","#7b2d5f","#f4c4c4","#ffa500","#4e83a8","#e2001a","#f0708e","#ffffff"]}},
        "detail": {"field": "part", "type": "nominal"},
        "order": {"value": null}
      }
    },
    {
      "bounds": "flush",
      "spacing": 24,
      "resolve": {
        "scale": {"color": "independent", "size": "independent", "stroke": "independent"},
        "legend": {"color": "independent", "size": "independent"}
      },
      "hconcat": [
        {
          "width": 723,
          "height": 722,
          "data": {"name": "contigs"},
          "mark": {"type": "point", "filled": true, "opacity": 0.6, "strokeWidth": 0.7, "clip": true},
          "encoding": {
            "x": {"field": "gc", "type": "quantitative", "scale": {"domain": [0, 1], "nice": false},
                  "axis": {"title": "GC proportion", "format": ".1f", "values": [0, 0.2, 0.4, 0.6, 0.8, 1],
                           "labelPadding": 4, "titlePadding": 8,
                           "gridColor": {"condition": {"test": "datum.value == 0 || datum.value == 1", "value": "transparent"}, "value": "#ffffff"}}},
            "y": {"field": "cov", "type": "quantitative", "scale": {"type": "log", "domain": [0.0096, 3000], "nice": false},
                  "axis": {"title": "Coverage", "values": [0.1, 1, 10, 100, 1000], "labelPadding": 6, "titlePadding": 2,
                           "labelExpr": "datum.value >= 1000 ? '10³' : datum.value >= 100 ? '10²' : datum.value >= 10 ? '10¹' : datum.value >= 1 ? '10⁰' : '10⁻¹'"}},
            "size": {"field": "len", "type": "quantitative",
                     "scale": {"type": "linear", "domain": [0, 1000000], "range": [0, 11500]},
                     "legend": {"title": null, "values": [1000, 5000, 10000], "orient": "bottom-right", "offset": 6,
                                "padding": 8, "rowPadding": 4, "labelOffset": 12, "labelFontSize": 11, "labelColor": "#262626",
                                "labelExpr": "format(datum.value, ',') + 'nt'", "symbolType": "circle",
                                "symbolFillColor": "#c4c4c4", "symbolStrokeColor": "#9a9a9a", "symbolStrokeWidth": 0.8, "symbolOpacity": 1,
                                "strokeColor": "#a6a6a6", "fillColor": "#ffffff"}},
            "color": {"field": "taxon", "type": "nominal",
                      "scale": {"domain": ["Serratia","Rahnella","Enterobacter","no-hit","Erwinia","Klebsiella","Yersinia","Cronobacter","Pantoea","Pseudomonas","Aeromonas","Escherichia","Pectobacterium","Raoultella","other"],
                                "range": ["#4ea86b","#0b6b3f","#20b2aa","#d3d3d3","#ffff99","#d2691e","#ffe500","#fdb462","#7b2d5f","#f4c4c4","#ffa500","#4e83a8","#e2001a","#f0708e","#ffffff"]},
                      "legend": {"title": null, "orient": "none", "legendX": 753, "legendY": -283, "direction": "vertical",
                                 "symbolType": "circle", "symbolSize": 100, "symbolOpacity": 1,
                                 "symbolStrokeColor": "#b5b5b5", "symbolStrokeWidth": 0.5,
                                 "labelFontSize": 11, "labelColor": "#262626", "labelLimit": 400, "labelOffset": 17,
                                 "rowPadding": 4.2, "padding": 8, "strokeColor": "#a6a6a6", "fillColor": "#ffffff",
                                 "labelExpr": "{'Serratia':'Serratia (119;5.09MB;399,170nt)','Rahnella':'Rahnella (577;1.25MB;2,098nt)','Enterobacter':'Enterobacter (12;0.23MB;209,657nt)','no-hit':'no-hit (41;0.09MB;2,001nt)','Erwinia':'Erwinia (5;0.03MB;20,002nt)','Klebsiella':'Klebsiella (11;0.03MB;2,920nt)','Yersinia':'Yersinia (12;0.03MB;2,310nt)','Cronobacter':'Cronobacter (3;0.01MB;1,999nt)','Pantoea':'Pantoea (3;0.01MB;2,132nt)','Pseudomonas':'Pseudomonas (2;0.0MB;2,739nt)','Aeromonas':'Aeromonas (2;0.0MB;1,728nt)','Escherichia':'Escherichia (1;0.0MB;3,197nt)','Pectobacterium':'Pectobacterium (1;0.0MB;2,009nt)','Raoultella':'Raoultella (1;0.0MB;1,972nt)','other':'other (2;0.0MB;1,862nt)'}[datum.label]"}},
            "stroke": {"field": "taxon", "type": "nominal", "legend": null,
                       "scale": {"domain": ["Serratia","Rahnella","Enterobacter","no-hit","Erwinia","Klebsiella","Yersinia","Cronobacter","Pantoea","Pseudomonas","Aeromonas","Escherichia","Pectobacterium","Raoultella","other"],
                                 "range": ["#4ea86b","#0b6b3f","#20b2aa","#c4c4c4","#e8e880","#d2691e","#e8d000","#fdb462","#7b2d5f","#e8b4b4","#ffa500","#4e83a8","#e2001a","#f0708e","#bbbbbb"]}}
          }
        },
        {
          "width": 241,
          "height": 722,
          "data": {"name": "covHist"},
          "mark": {"type": "line", "interpolate": "step-before", "strokeWidth": 1.6},
          "encoding": {
            "x": {"field": "kb", "type": "quantitative", "scale": {"domain": [0, 3000], "nice": false},
                  "axis": {"title": "Span (kb)", "titleFontSize": 14, "titlePadding": 8, "labelPadding": 5, "format": "d",
                           "values": [0, 500, 1000, 1500, 2000, 2500, 3000],
                           "labelAngle": 90, "labelAlign": "left", "labelBaseline": "middle",
                           "gridColor": {"condition": {"test": "datum.value == 0 || datum.value == 3000", "value": "transparent"}, "value": "#ffffff"}}},
            "y": {"field": "cov", "type": "quantitative", "scale": {"type": "log", "domain": [0.0096, 3000], "nice": false},
                  "axis": {"title": null, "labels": false, "values": [0.1, 1, 10, 100, 1000]}},
            "color": {"field": "taxon", "type": "nominal", "legend": null,
                      "scale": {"domain": ["Serratia","Rahnella","Enterobacter","no-hit","Erwinia","Klebsiella","Yersinia","Cronobacter","Pantoea","Pseudomonas","Aeromonas","Escherichia","Pectobacterium","Raoultella","other"],
                                "range": ["#4ea86b","#0b6b3f","#20b2aa","#d3d3d3","#ffff99","#d2691e","#ffe500","#fdb462","#7b2d5f","#f4c4c4","#ffa500","#4e83a8","#e2001a","#f0708e","#ffffff"]}},
            "detail": {"field": "part", "type": "nominal"},
            "order": {"value": null}
          }
        }
      ]
    }
  ]
}
